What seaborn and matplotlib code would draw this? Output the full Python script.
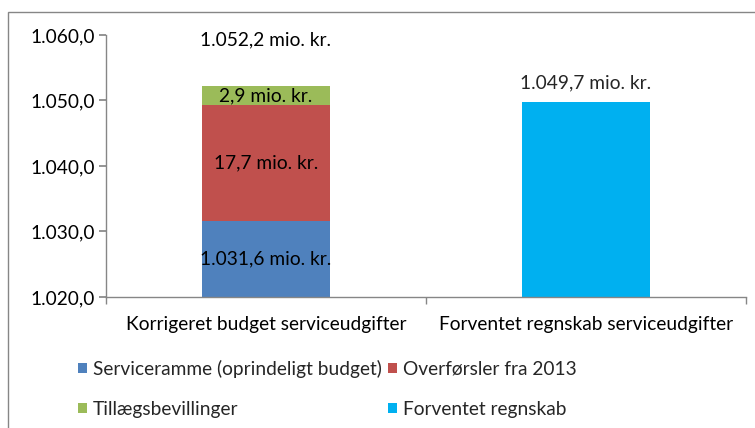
import pandas as pd
import seaborn as sns
import matplotlib.pyplot as plt
from matplotlib.patches import Rectangle
from matplotlib.ticker import FuncFormatter

categories = ["Korrigeret budget serviceudgifter", "Forventet regnskab serviceudgifter"]
series_names = ["Serviceramme (oprindeligt budget)", "Overførsler fra 2013",
                "Tillægsbevillinger", "Forventet regnskab"]
serviceramme = [1031.6]
overfoersler = [17.7]
tillaeg = [2.9]
forventet = [1049.7]
colors = ["#4f81bd", "#c0504d", "#9bbb59", "#00b0f0"]

FS = 13.8


def dk(v, decimals=1):
    s = f"{v:,.{decimals}f}"
    return s.replace(",", "X").replace(".", ",").replace("X", ".")


sns.set_theme(style="white")
plt.rcParams["font.family"] = ["Lato", "DejaVu Sans"]

fig = plt.figure(figsize=(7.55, 4.28), dpi=100)
ax = fig.add_axes([106 / 755, 1 - 297 / 428, 640 / 755, 262 / 428])

# stacked bar drawn as overlapping cumulative layers (largest first)
tops = [serviceramme[0], serviceramme[0] + overfoersler[0],
        serviceramme[0] + overfoersler[0] + tillaeg[0]]
layers = [(tops[2], colors[2], series_names[2]),
          (tops[1], colors[1], series_names[1]),
          (tops[0], colors[0], series_names[0])]
for top, col, name in layers:
    d = pd.DataFrame({"cat": [categories[0]], "val": [top]})
    sns.barplot(data=d, x="cat", y="val", order=categories, color=col,
                width=0.4, saturation=1, ax=ax, label=name, linewidth=0)
d = pd.DataFrame({"cat": [categories[1]], "val": forventet})
sns.barplot(data=d, x="cat", y="val", order=categories, color=colors[3],
            width=0.4, saturation=1, ax=ax, label=series_names[3], linewidth=0)
if ax.get_legend() is not None:
    ax.get_legend().remove()

ax.set_ylim(1020, 1060)
ax.set_xlim(-0.5, 1.5)
ax.set_yticks([1020, 1030, 1040, 1050, 1060])
ax.yaxis.set_major_formatter(FuncFormatter(lambda v, p: dk(v)))
ax.set_xlabel("")
ax.set_ylabel("")
for s in ["top", "right"]:
    ax.spines[s].set_visible(False)
for s in ["left", "bottom"]:
    ax.spines[s].set_color("#868686")
    ax.spines[s].set_linewidth(1)
ax.tick_params(axis="y", left=True, length=5, color="#868686", labelsize=FS,
               labelcolor="#000000", pad=3)
ax.tick_params(axis="x", which="major", bottom=False, labelsize=FS,
               labelcolor="#000000", pad=8)
ax.set_xticks([-0.5, 0.5, 1.5], minor=True)
ax.tick_params(axis="x", which="minor", bottom=True, length=5, color="#868686")

# segment labels
lbl = dict(ha="center", va="center", fontsize=FS, color="#000000")
ax.text(0, (1020 + tops[0]) / 2, dk(serviceramme[0]) + " mio. kr.", **lbl)
ax.text(0, (tops[0] + tops[1]) / 2, dk(overfoersler[0]) + " mio. kr.", **lbl)
ax.text(0, (tops[1] + tops[2]) / 2, dk(tillaeg[0]) + " mio. kr.", **lbl)
ax.text(0, 1059.2, dk(tops[2]) + " mio. kr.", **lbl)
ax.annotate(dk(forventet[0]) + " mio. kr.", (1, forventet[0]), xytext=(0, 11),
            textcoords="offset pixels", ha="center", va="bottom", fontsize=FS)

handles, labels = ax.get_legend_handles_labels()
hmap = dict(zip(labels, handles))
l_sorted = [series_names[0], series_names[2], series_names[1], series_names[3]]
h_sorted = [hmap[n] for n in l_sorted]
fig.legend(h_sorted, l_sorted, ncol=2, loc="upper left",
           bbox_to_anchor=(72 / 755, 1 - 354 / 428), frameon=False,
           fontsize=FS, handlelength=0.5, handleheight=0.5, handletextpad=0.3,
           columnspacing=0.3, labelspacing=1.2, borderaxespad=0, borderpad=0.3)

fig.patches.append(Rectangle((8 / 755, -0.1), 1.2, 1.1 - 12 / 428,
                             transform=fig.transFigure, fill=False,
                             edgecolor="#868686", linewidth=1))

fig.savefig("out.png", dpi=100)
